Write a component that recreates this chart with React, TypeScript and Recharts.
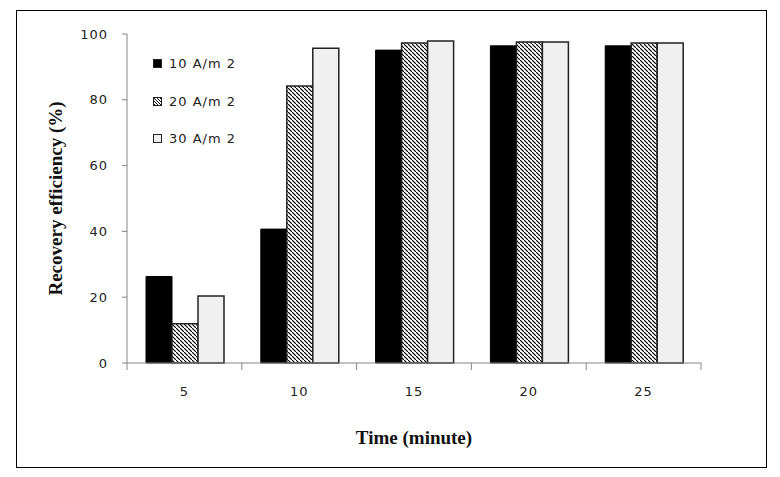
import { BarChart, Bar, XAxis, YAxis, Legend } from "recharts";

const TIMES = ["5", "10", "15", "20", "25"];
const SERIES_NAMES = ["10 A/m 2", "20 A/m 2", "30 A/m 2"];
const CD10 = [26.3, 40.7, 95.1, 96.4, 96.4];
const CD20 = [11.9, 84.2, 97.3, 97.6, 97.3];
const CD30 = [20.4, 95.7, 97.9, 97.6, 97.3];
const Y_TICKS = [0, 20, 40, 60, 80, 100];

const data = TIMES.map((t, i) => ({
  time: t,
  a: CD10[i],
  b: CD20[i],
  c: CD30[i],
}));

const W = 780;
const H = 477;
const MARGIN = { top: 34, right: 79, bottom: 20, left: 0 };
const Y_W = 127;
const BAND = (W - MARGIN.left - MARGIN.right - Y_W) / TIMES.length;

const AXIS_GREY = "#868686";
const TICK_FONT = "'DejaVu Sans', sans-serif";
const TITLE_FONT = "'Liberation Serif', 'DejaVu Serif', serif";

// Excel style: tick marks between categories, label in the middle
function CatTick(props: any) {
  const { x, y, payload, index } = props;
  const last = index === TIMES.length - 1;
  return (
    <g>
      <line x1={x - BAND / 2} y1={y} x2={x - BAND / 2} y2={y + 7} stroke={AXIS_GREY} />
      {last && (
        <line x1={x + BAND / 2} y1={y} x2={x + BAND / 2} y2={y + 7} stroke={AXIS_GREY} />
      )}
      <text
        x={x}
        y={y + 33}
        textAnchor="middle"
        fill="#222"
        fontSize={13}
        fontFamily={TICK_FONT}
        letterSpacing={1}
      >
        {payload.value}
      </text>
    </g>
  );
}

function Swatch({ kind }: { kind: string }) {
  const fill = kind === "a" ? "#000" : kind === "b" ? "url(#hatchLeg)" : "#f0f0f0";
  return (
    <svg width={9} height={9} style={{ display: "block" }}>
      <defs>
        <pattern id="hatchLeg" width={3} height={3} patternUnits="userSpaceOnUse">
          <rect width={3} height={3} fill="#fff" />
          <path d="M-1,-1 l2,2 M0,0 l3,3 M2,2 l2,2" stroke="#000" strokeWidth={0.9} />
        </pattern>
      </defs>
      <rect x={0.5} y={0.5} width={8} height={8} fill={fill} stroke="#222" strokeWidth={1} />
    </svg>
  );
}

function LegendBox(props: any) {
  const { payload } = props;
  return (
    <div>
      {(payload || []).map((p: any) => (
        <div
          key={p.dataKey}
          style={{ display: "flex", alignItems: "center", height: 37.5 }}
        >
          <Swatch kind={p.dataKey} />
          <span
            style={{
              marginLeft: 7,
              fontFamily: TICK_FONT,
              fontSize: 13,
              color: "#222",
              letterSpacing: 1,
            }}
          >
            {p.value}
          </span>
        </div>
      ))}
    </div>
  );
}

function YTitle(props: any) {
  const { viewBox } = props;
  const cy = viewBox.y + viewBox.height / 2;
  return (
    <text
      x={55}
      y={cy}
      transform={`rotate(-90, 55, ${cy})`}
      textAnchor="middle"
      dominantBaseline="central"
      fontFamily={TITLE_FONT}
      fontWeight="bold"
      fontSize={19}
      fill="#111"
    >
      Recovery efficiency (%)
    </text>
  );
}

export default function App() {
  return (
    <div
      style={{
        position: "absolute",
        left: 0,
        top: 0,
        width: W,
        height: H,
        background: "#fff",
      }}
    >
      <div
        style={{
          position: "absolute",
          left: 16,
          top: 10,
          width: 749,
          height: 456,
          border: "1px solid #000",
        }}
      />
      <div style={{ position: "absolute", left: 0, top: 0 }}>
        <BarChart
          width={W}
          height={H}
          data={data}
          margin={MARGIN}
          barCategoryGap={19}
          barGap={0}
        >
          <defs>
            <pattern id="hatch" width={4} height={4} patternUnits="userSpaceOnUse">
              <rect width={4} height={4} fill="#fff" />
              <path d="M-1,-1 l2,2 M0,0 l4,4 M3,3 l2,2" stroke="#000" strokeWidth={1.1} />
            </pattern>
          </defs>
          <XAxis
            dataKey="time"
            type="category"
            height={94}
            stroke={AXIS_GREY}
            tickLine={false}
            tickSize={0}
            tickMargin={0}
            interval={0}
            tick={<CatTick />}
            label={{
              value: "Time (minute)",
              position: "insideBottom",
              offset: 13,
              fill: "#111",
              fontSize: 19,
              fontWeight: "bold",
              fontFamily: TITLE_FONT,
            }}
          />
          <YAxis
            width={Y_W}
            domain={[0, 100]}
            ticks={Y_TICKS}
            interval={0}
            stroke={AXIS_GREY}
            tickSize={5}
            tickMargin={14}
            tick={{ fill: "#222", fontSize: 13, fontFamily: TICK_FONT, letterSpacing: 1 }}
            label={<YTitle />}
          />
          <Legend
            layout="vertical"
            align="center"
            verticalAlign="middle"
            content={<LegendBox />}
            wrapperStyle={{ left: 153, top: 45, width: 120, height: 115 }}
          />
          <Bar
            dataKey="a"
            name={SERIES_NAMES[0]}
            fill="#000"
            stroke="#000"
            strokeWidth={1}
            isAnimationActive={false}
          />
          <Bar
            dataKey="b"
            name={SERIES_NAMES[1]}
            fill="url(#hatch)"
            stroke="#222"
            strokeWidth={1.5}
            isAnimationActive={false}
          />
          <Bar
            dataKey="c"
            name={SERIES_NAMES[2]}
            fill="#f0f0f0"
            stroke="#222"
            strokeWidth={1.5}
            isAnimationActive={false}
          />
        </BarChart>
      </div>
    </div>
  );
}
